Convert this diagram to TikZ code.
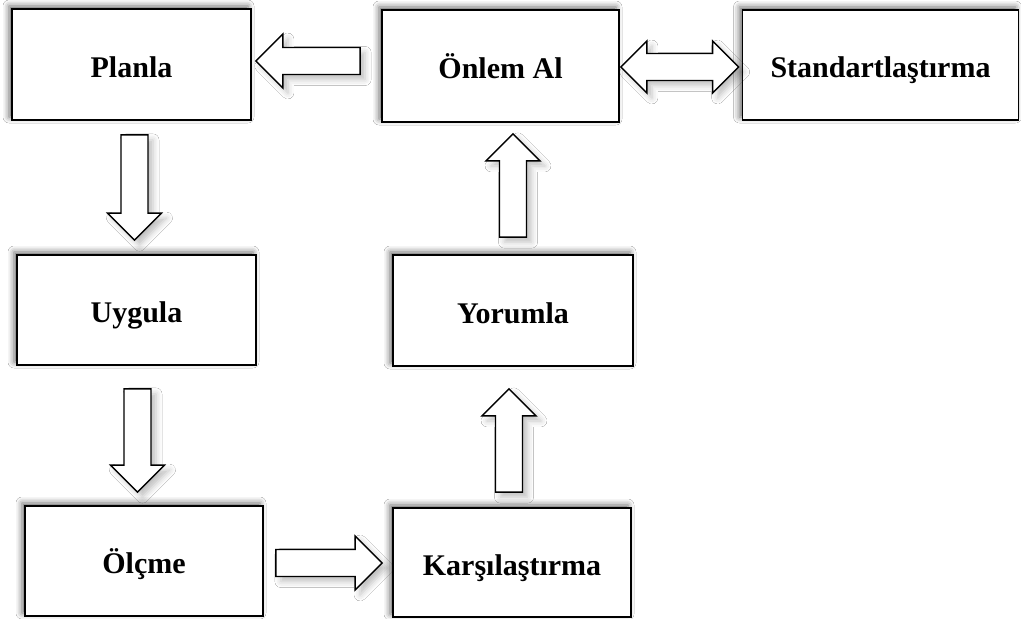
\documentclass[tikz,border=0pt]{standalone}
\usepackage{fontspec}
\setmainfont{Liberation Serif}
\usetikzlibrary{calc,shadows.blur}
\tikzset{
  box/.style={draw=black, line width=1.8pt, fill=white, rectangle,
    font=\fontsize{30}{34}\selectfont\bfseries, text height=28pt, text depth=3pt,
    blur shadow={shadow xshift=-3pt, shadow yshift=3pt, shadow blur radius=6pt, shadow opacity=60}},
  blockarrow/.style={draw=black, line width=1.4pt, fill=white, line join=miter,
    blur shadow={shadow xshift=5pt, shadow yshift=-5pt, shadow blur radius=6pt, shadow opacity=25}}
}
% block arrow from #1 to #2
\newcommand\barrowpath[2]{%
  \path[blockarrow]
    ($(#1)!13.5pt!90:(#2)$) --
    ($($(#2)!27pt!(#1)$)!13.5pt!-90:(#1)$) --
    ($($(#2)!27pt!(#1)$)!27pt!-90:(#1)$) --
    (#2) --
    ($($(#2)!27pt!(#1)$)!27pt!90:(#1)$) --
    ($($(#2)!27pt!(#1)$)!13.5pt!90:(#1)$) --
    ($(#1)!13.5pt!-90:(#2)$) -- cycle;}
\begin{document}
\begin{tikzpicture}[x=1pt,y=-1pt]
\useasboundingbox[fill=white] (0,0) rectangle (1021,619);
% boxes
\node[box, minimum width=239pt, minimum height=111pt] (planla)  at (131.5,64.5) {Planla};
\node[box, minimum width=237pt, minimum height=112pt] (onlem)   at (500.5,66) {Önlem Al};
\node[box, minimum width=276pt, minimum height=110pt] (stand)   at (880.5,65) {Standartlaştırma};
\node[box, minimum width=239pt, minimum height=110pt] (uygula)  at (136.5,310) {Uygula};
\node[box, minimum width=240pt, minimum height=111pt] (yorumla) at (513,310.5) {Yorumla};
\node[box, minimum width=238pt, minimum height=110pt] (olcme)   at (144,561) {Ölçme};
\node[box, minimum width=238pt, minimum height=109pt] (karsi)   at (512,562.5) {Karşılaştırma};
% arrow end points
\coordinate (a1s) at ($(onlem.west)+(-21,-5)$);
\coordinate (a1e) at ($(a1s -| planla.east)+(4,0)$);
\coordinate (a2s) at ($(planla.south)+(3,14)$);
\coordinate (a2e) at ($(a2s |- uygula.north)+(0,-14)$);
\coordinate (a3s) at ($(uygula.south)+(1,23)$);
\coordinate (a3e) at ($(a3s |- olcme.north)+(0,-13)$);
\coordinate (a4s) at ($(olcme.east)+(12,2)$);
\coordinate (a4e) at ($(a4s -| karsi.west)+(-10,0)$);
\coordinate (a5s) at ($(karsi.north)+(-3,-15)$);
\coordinate (a5e) at ($(a5s |- yorumla.south)+(0,22)$);
\coordinate (a6s) at ($(yorumla.north)+(0,-17)$);
\coordinate (a6e) at ($(a6s |- onlem.south)+(0,11)$);
\coordinate (a7s) at ($(onlem.east)+(1,1)$);
\coordinate (a7e) at ($(a7s -| stand.west)+(-3,0)$);
% arrows
\barrowpath{a1s}{a1e}
\barrowpath{a2s}{a2e}
\barrowpath{a3s}{a3e}
\barrowpath{a4s}{a4e}
\barrowpath{a5s}{a5e}
\barrowpath{a6s}{a6e}
% double arrow
\path[blockarrow]
  (a7s) --
  ($(a7s)+(26,-26)$) -- ($(a7s)+(26,-13.5)$) --
  ($(a7e)+(-26,-13.5)$) -- ($(a7e)+(-26,-26)$) --
  (a7e) --
  ($(a7e)+(-26,26)$) -- ($(a7e)+(-26,13.5)$) --
  ($(a7s)+(26,13.5)$) -- ($(a7s)+(26,26)$) -- cycle;
\end{tikzpicture}
\end{document}
